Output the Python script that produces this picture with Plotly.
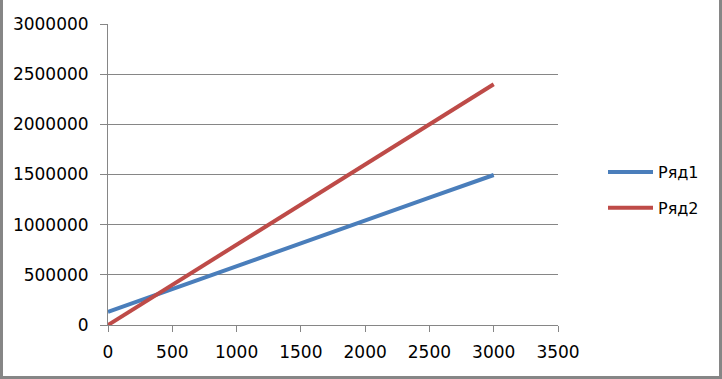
import plotly.graph_objects as go

x_vals = [0, 500, 1000, 1500, 2000, 2500, 3000]
series1 = [130000, 360000, 585000, 815000, 1040000, 1270000, 1495000]
series2 = [0, 400000, 800000, 1200000, 1600000, 2000000, 2400000]
names = ["Ряд1", "Ряд2"]
colors = ["#4a7ebb", "#be4b48"]

W, H = 722, 379
ml, mr, mt, mb = 108, 164, 24, 54
pw, ph = W - ml - mr, H - mt - mb

fig = go.Figure()
for name, ys, c in zip(names, [series1, series2], colors):
    fig.add_trace(go.Scatter(x=x_vals, y=ys, mode="lines", name=name,
                             legendgroup=name,
                             line=dict(color=c, width=4)))

axis_color = "#868686"
font = dict(family="DejaVu Sans, sans-serif", size=17, color="#000000")
lfont = dict(family="DejaVu Sans, sans-serif", size=16, color="#000000")

fig.update_layout(
    width=W, height=H,
    margin=dict(l=ml, r=mr, t=mt, b=mb, pad=0),
    paper_bgcolor="white", plot_bgcolor="white",
    font=font,
    showlegend=True,
    legend=dict(x=(603 - ml) / pw, y=(325 - 190) / ph, xanchor="left", yanchor="middle",
                tracegroupgap=12, traceorder="grouped", font=lfont, itemwidth=45,
                bgcolor="rgba(0,0,0,0)"),
    xaxis=dict(range=[0, 3500], tickvals=[0, 500, 1000, 1500, 2000, 2500, 3000, 3500],
               ticktext=["0", "500", "1000", "1500", "2000", "2500", "3000", "3500"],
               showgrid=False, zeroline=False, showline=True, linecolor=axis_color,
               linewidth=1, ticks="outside", ticklen=6, tickcolor=axis_color,
               tickfont=font, ticklabelstandoff=6),
    yaxis=dict(range=[0, 3000000], tickvals=[0, 500000, 1000000, 1500000, 2000000, 2500000, 3000000],
               ticktext=["0", "500000", "1000000", "1500000", "2000000", "2500000", "3000000"],
               showgrid=True, gridcolor=axis_color, gridwidth=1, zeroline=False,
               showline=True, linecolor=axis_color, linewidth=1,
               ticks="outside", ticklen=7, tickcolor=axis_color, tickfont=font,
               ticklabelstandoff=8),
    shapes=[dict(type="rect", xref="paper", yref="paper",
                 x0=-(ml - 1.5) / pw, x1=(W - ml - 1.5) / pw,
                 y0=-(mb - 1.5) / ph, y1=(H - mt - 1.5) / ph,
                 line=dict(color=axis_color, width=3), layer="above")],
)

fig.write_html("out.html", config={"displayModeBar": False},
               post_script="document.body.style.margin='0';")
